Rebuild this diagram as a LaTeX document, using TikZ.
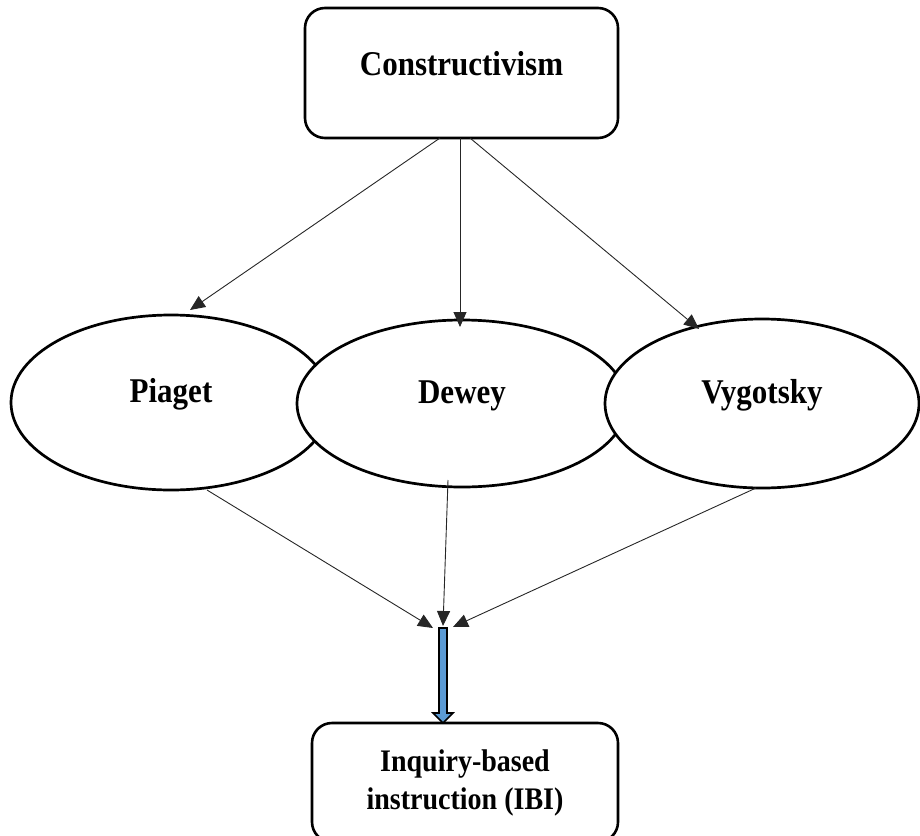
\documentclass[tikz,border=0pt]{standalone}
\usepackage{fontspec}
\setmainfont{Liberation Serif}
\usetikzlibrary{arrows.meta,shapes.geometric,calc}
\definecolor{ibiblue}{RGB}{91,155,213}
\begin{document}
\begin{tikzpicture}[x=1pt,y=-1pt,
  box/.style={draw=black,line width=2.6pt,rounded corners=20pt,fill=white,inner sep=0pt},
  oval/.style={draw=black,line width=2.7pt,ellipse,fill=white,inner sep=0pt,
    font=\bfseries\fontsize{31}{36}\selectfont,text height=23pt,text depth=23pt},
  conn/.style={draw=black!85,line width=0.9pt,-{Triangle[length=15pt,width=13pt]}},
  bluearrow/.style={draw=black,line width=1.6pt,fill=ibiblue,line join=miter}]
\useasboundingbox (0,0) rectangle (920,835);
% top box
\node[box,minimum width=313pt,minimum height=130pt,
  font=\bfseries\fontsize{31}{36}\selectfont,text height=23pt,text depth=18pt]
  (c) at (461.5,73) {\scalebox{1}[1.12]{Constructivism}};
% ellipses
\node[oval,minimum width=320pt,minimum height=175pt] (p) at (171,402.5) {\scalebox{1}[1.12]{Piaget}};
\node[oval,minimum width=330pt,minimum height=167pt] (d) at (462,403.5) {\scalebox{1}[1.12]{Dewey}};
\node[oval,minimum width=314pt,minimum height=169pt] (v) at (762,403.5) {\scalebox{1}[1.12]{Vygotsky}};
% bottom box
\node[box,minimum width=306pt,minimum height=119pt,align=center,
  font=\bfseries\fontsize{28}{38}\selectfont] (ibi) at (465,782.5)
  {\scalebox{1}[1.12]{Inquiry-based}\\\scalebox{1}[1.12]{instruction (IBI)}};
% coordinates
\coordinate (c1) at (440,138);
\coordinate (c2) at (460,138);
\coordinate (c3) at (470,138);
\coordinate (pin) at (190,310);
\coordinate (din) at (460,327);
\coordinate (vin) at (699,329);
\coordinate (pout) at (207,490);
\coordinate (dout) at (448,480);
\coordinate (vout) at (756,488);
\coordinate (j1) at (433,628);
\coordinate (j2) at (443,626);
\coordinate (j3) at (453,627);
\coordinate (j) at (443,628);
\coordinate (k) at (443,723);
% connectors
\draw[conn] (c1) -- (pin);
\draw[conn] (c2) -- (din);
\draw[conn] (c3) -- (vin);
\draw[conn] (pout) -- (j1);
\draw[conn] (dout) -- (j2);
\draw[conn] (vout) -- (j3);
% blue block arrow
\path[bluearrow] ($(j)+(-4,0)$) -- ($(k)+(-4,-10)$) -- ($(k)+(-10,-10)$) -- (k)
  -- ($(k)+(10,-10)$) -- ($(k)+(4,-10)$) -- ($(j)+(4,0)$) -- cycle;
\end{tikzpicture}
\end{document}
